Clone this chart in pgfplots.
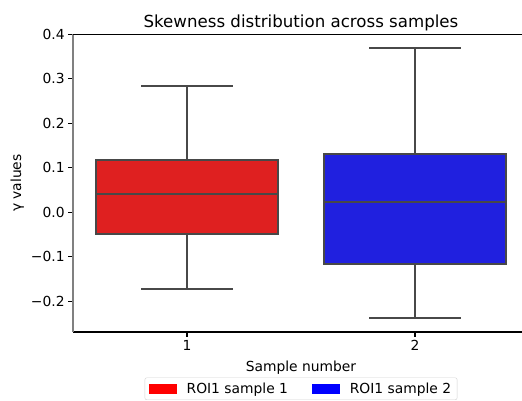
\documentclass[border=0pt]{standalone}
\usepackage{fontspec}
\setmainfont{DejaVu Sans}
\usepackage{pgfplots}
\pgfplotsset{compat=1.18}
\definecolor{boxred}{RGB}{223,32,32}
\definecolor{boxblue}{RGB}{32,32,223}
\definecolor{edge}{RGB}{72,72,72}
\begin{document}
\begin{tikzpicture}
\begin{axis}[
  width=456bp, height=297.7bp, scale only axis,
  xmin=0.5, xmax=2.5, ymin=-0.269, ymax=0.4,
  axis x line*=bottom, axis y line*=left,
  x axis line style={black, line width=1.1bp},
  y axis line style={gray, line width=1.1bp},
  xtick={1,2}, xticklabels={1,2},
  ytick={-0.2,-0.1,0,0.1,0.2,0.3,0.4},
  yticklabels={−0.2,−0.1,0.0,0.1,0.2,0.3,0.4},
  tick align=outside, major tick length=4.9bp,
  tick style={black, line width=1.1bp},
  tick label style={font=\fontsize{13.9}{16}\selectfont},
  xlabel={Sample number}, ylabel={γ values},
  label style={font=\fontsize{13.9}{16}\selectfont},
  xlabel style={yshift=-3bp},
  title={Skewness distribution across samples},
  title style={font=\fontsize{16.7}{19}\selectfont, yshift=-6bp},
  legend columns=2,
  legend style={at={(0.5,-0.153)}, anchor=north, draw=gray!35, rounded corners=2bp,
    font=\fontsize{13.9}{16}\selectfont, inner xsep=4bp, inner ysep=3bp,
    /tikz/every odd column/.append style={column sep=8bp},
    /tikz/every even column/.append style={column sep=22bp}},
  legend image code/.code={\fill[#1, draw=none, sharp corners] (0bp,-4.8bp) rectangle (27.8bp,4.8bp);},
  clip=false,
]
\addlegendimage{fill=red}
\addlegendentry{ROI1 sample 1}
\addlegendimage{fill=blue}
\addlegendentry{ROI1 sample 2}
% sample 1: whiskers -0.172 / 0.283, quartiles -0.0495 / 0.1186, median 0.041
\addplot[edge, line width=2bp] coordinates {(1,0.1186) (1,0.283)};
\addplot[edge, line width=2bp] coordinates {(1,-0.0495) (1,-0.172)};
\addplot[edge, line width=2bp] coordinates {(0.8,0.283) (1.2,0.283)};
\addplot[edge, line width=2bp] coordinates {(0.8,-0.172) (1.2,-0.172)};
\addplot[fill=boxred, draw=edge, line width=2bp] coordinates {(0.6,-0.0495) (1.4,-0.0495) (1.4,0.1186) (0.6,0.1186)} -- cycle;
\addplot[edge, line width=2bp] coordinates {(0.6,0.041) (1.4,0.041)};
% sample 2: whiskers -0.238 / 0.370, quartiles -0.1155 / 0.1305, median 0.0225
\addplot[edge, line width=2bp] coordinates {(2,0.1305) (2,0.370)};
\addplot[edge, line width=2bp] coordinates {(2,-0.1155) (2,-0.238)};
\addplot[edge, line width=2bp] coordinates {(1.8,0.370) (2.2,0.370)};
\addplot[edge, line width=2bp] coordinates {(1.8,-0.238) (2.2,-0.238)};
\addplot[fill=boxblue, draw=edge, line width=2bp] coordinates {(1.6,-0.1155) (2.4,-0.1155) (2.4,0.1305) (1.6,0.1305)} -- cycle;
\addplot[edge, line width=2bp] coordinates {(1.6,0.0225) (2.4,0.0225)};
\draw[black, line width=1.1bp] (rel axis cs:0,1) -- (rel axis cs:1,1);
\coordinate (bl) at (rel axis cs:0,0);
\coordinate (tr) at (rel axis cs:1,1);
\end{axis}
\pgfresetboundingbox
\path[use as bounding box] ([xshift=-73bp,yshift=-68.3bp]bl) rectangle ([xshift=-7bp,yshift=34.3bp]tr);
\end{tikzpicture}
\end{document}
